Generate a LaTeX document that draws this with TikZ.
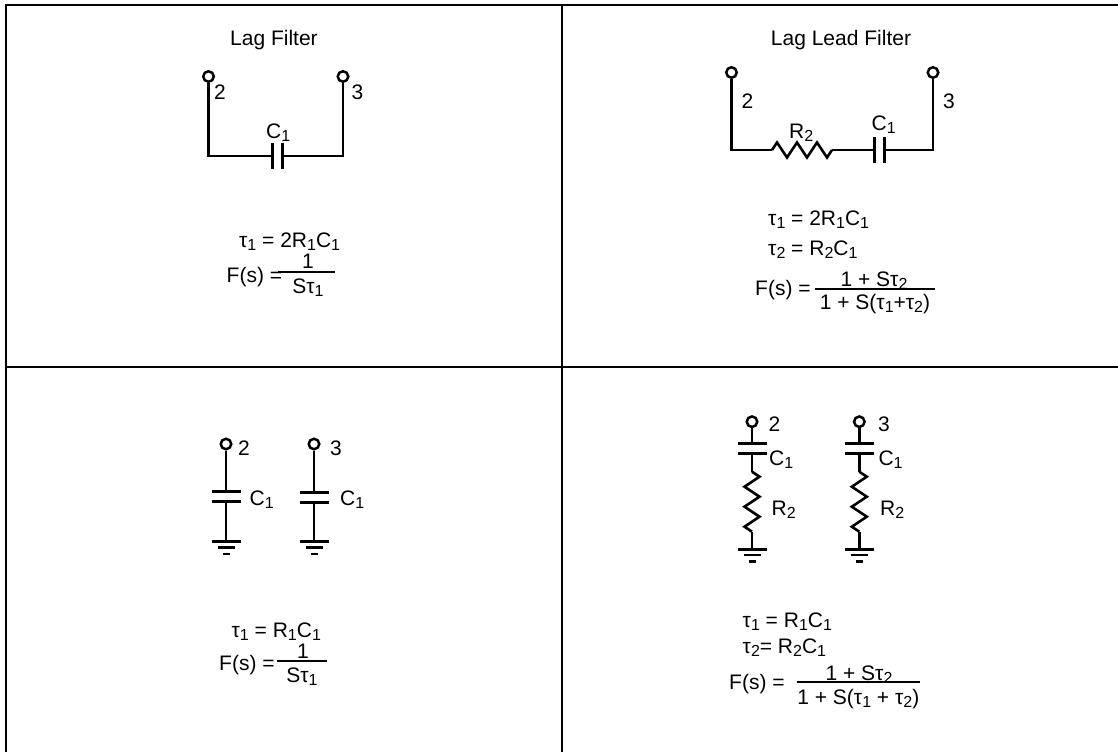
\documentclass[tikz,border=0pt]{standalone}
\usepackage{fontspec}
\setmainfont{Liberation Sans}
\usetikzlibrary{calc,positioning,decorations.pathmorphing}
\newcommand{\lowsub}[1]{\raisebox{-3.3pt}{\fontsize{16}{16}\selectfont #1}}

\begin{document}
\begin{tikzpicture}[
    x=1pt, y=-1pt,
    every node/.style={inner sep=0pt, font=\fontsize{21}{25}\selectfont},
    txt/.style={anchor=base west},
    ctxt/.style={anchor=base},
    frame/.style={line width=2pt, black},
    wire/.style={line width=2.6pt, black},
    plate/.style={line width=3pt, black},
    bar/.style={line width=2pt, black},
    term/.style={circle, draw=black, line width=2.5pt, fill=white, minimum size=10.5pt},
    res/.style={wire, decorate, decoration={zigzag, segment length=20pt, amplitude=7.5pt}},
    hcap/.pic={\draw[plate] (-5,-13) -- (-5,13) (5,-13) -- (5,13);},
    vcap/.pic={\draw[plate] (-14.5,-5) -- (14.5,-5) (-14.5,5) -- (14.5,5);},
    gnd/.pic={\draw[wire] (-14.5,0) -- (14.5,0) (-8.5,5.7) -- (8.5,5.7) (-3.5,12.3) -- (3.5,12.3);},
  ]

  \useasboundingbox (0,0) rectangle (1118,752);

  % table lines
  \draw[frame] (1118,5) -- (6,5) -- (6,752);
  \draw[frame] (562,5) -- (562,752);
  \draw[frame] (6,367) -- (1118,367);

  % lag filter
  \node (lagT)  [ctxt] at (274,46) {Lag Filter};
  \node (t2a)   [term] at (208.5,76.5) {};
  \node (t3a)   [term] at (343,76.5) {};
  \coordinate (c1al) at (272,156);
  \coordinate (c1ar) at (282,156);
  \draw[wire] (t2a) |- (c1al);
  \draw[wire] (c1ar) -| (t3a);
  \pic at ($(c1al)!0.5!(c1ar)$) {hcap};
  \node (n2a)   [txt] at (214,99) {2};
  \node (n3a)   [txt] at (351.5,99) {3};
  \node (c1a)   [txt] at (266,138) {C\lowsub{1}};

  \node (tau1a) [txt] at (239,247) {τ\lowsub{1} = 2R\lowsub{1}C\lowsub{1}};
  \node (fsa)   [txt] at (226.5,282) {F(s) =};
  \coordinate (bara1) at (278,272.3);
  \coordinate (bara2) at (335,272.3);
  \draw[bar] (bara1) -- (bara2);
  \node (numa)  [ctxt] at (308,268.5) {1};
  \node (dena)  [ctxt] at (308,293) {Sτ\lowsub{1}};

  % lag lead filter
  \node (lagleadT) [ctxt] at (841,46) {Lag Lead Filter};
  \node (t2b)   [term] at (731.5,72.5) {};
  \node (t3b)   [term] at (933,72.5) {};
  \coordinate (r2bl) at (772,150);
  \coordinate (r2br) at (832,150);
  \coordinate (c1bl) at (874,150);
  \coordinate (c1br) at (884,150);
  \draw[wire] (t2b) |- (r2bl);
  \draw[res]  (r2bl) -- (r2br);
  \draw[wire] (r2br) -- (c1bl);
  \draw[wire] (c1br) -| (t3b);
  \pic at ($(c1bl)!0.5!(c1br)$) {hcap};
  \node (n2b)   [txt] at (741.5,108) {2};
  \node (n3b)   [txt] at (943,108) {3};
  \node (r2b)   [txt] at (789,138) {R\lowsub{2}};
  \node (c1b)   [txt] at (871.5,130) {C\lowsub{1}};

  \node (tau1b) [txt] at (768,225) {τ\lowsub{1} = 2R\lowsub{1}C\lowsub{1}};
  \node (tau2b) [txt] at (768,255) {τ\lowsub{2} = R\lowsub{2}C\lowsub{1}};
  \node (fsb)   [txt] at (755,295) {F(s) =};
  \coordinate (barb1) at (815,289.3);
  \coordinate (barb2) at (935,289.3);
  \draw[bar] (barb1) -- (barb2);
  \node (numb)  [ctxt] at (874,286) {1 + Sτ\lowsub{2}};
  \node (denb)  [ctxt] at (875,309) {1 + S(τ\lowsub{1}+τ\lowsub{2})};

  % shunt capacitors
  \node (t2c)   [term] at (226,444) {};
  \node (t3c)   [term] at (314,444) {};
  \coordinate (c2ct) at (226,491);
  \coordinate (c2cb) at (226,501);
  \coordinate (c3ct) at (314,492.5);
  \coordinate (c3cb) at (314,502.5);
  \coordinate (g2c) at (226,541.7);
  \coordinate (g3c) at (314,541.7);
  \draw[wire] (t2c) -- (c2ct);
  \draw[wire] (c2cb) -- (g2c);
  \draw[wire] (t3c) -- (c3ct);
  \draw[wire] (c3cb) -- (g3c);
  \pic at ($(c2ct)!0.5!(c2cb)$) {vcap};
  \pic at ($(c3ct)!0.5!(c3cb)$) {vcap};
  \pic at (g2c) {gnd};
  \pic at (g3c) {gnd};
  \node (n2c)   [txt] at (238,455) {2};
  \node (n3c)   [txt] at (330,455) {3};
  \node (c1c)   [txt] at (249.5,505) {C\lowsub{1}};
  \node (c1cc)  [txt] at (340,505) {C\lowsub{1}};

  \node (tau1c) [txt] at (231.5,637) {τ\lowsub{1} = R\lowsub{1}C\lowsub{1}};
  \node (fsc)   [txt] at (219,670) {F(s) =};
  \coordinate (barc1) at (276.7,661.3);
  \coordinate (barc2) at (327,661.3);
  \draw[bar] (barc1) -- (barc2);
  \node (numc)  [ctxt] at (303,658.5) {1};
  \node (denc)  [ctxt] at (302,682) {Sτ\lowsub{1}};

  % shunt capacitor with resistor
  \node (t2d)   [term] at (752,421.7) {};
  \node (t3d)   [term] at (859.3,421.7) {};
  \coordinate (c2dt) at (752,443.3);
  \coordinate (c2db) at (752,453.3);
  \coordinate (r2dt) at (752,471.7);
  \coordinate (r2db) at (752,531.7);
  \coordinate (g2d)  at (752,549.3);
  \coordinate (c3dt) at (859.3,443.3);
  \coordinate (c3db) at (859.3,453.3);
  \coordinate (r3dt) at (859.3,471.7);
  \coordinate (r3db) at (859.3,531.7);
  \coordinate (g3d)  at (859.3,549.3);
  \draw[wire] (t2d) -- (c2dt);
  \draw[wire] (c2db) -- (r2dt);
  \draw[res]  (r2dt) -- (r2db);
  \draw[wire] (r2db) -- (g2d);
  \draw[wire] (t3d) -- (c3dt);
  \draw[wire] (c3db) -- (r3dt);
  \draw[res]  (r3dt) -- (r3db);
  \draw[wire] (r3db) -- (g3d);
  \pic at ($(c2dt)!0.5!(c2db)$) {vcap};
  \pic at ($(c3dt)!0.5!(c3db)$) {vcap};
  \pic at (g2d) {gnd};
  \pic at (g3d) {gnd};
  \node (n2d)   [txt] at (768.5,431.7) {2};
  \node (n3d)   [txt] at (878,431.7) {3};
  \node (c1d)   [txt] at (769,465) {C\lowsub{1}};
  \node (c1dd)  [txt] at (878.3,465) {C\lowsub{1}};
  \node (r2d)   [txt] at (771.5,515) {R\lowsub{2}};
  \node (r2dd)  [txt] at (880,515) {R\lowsub{2}};

  \node (tau1d) [txt] at (742.5,627) {τ\lowsub{1} = R\lowsub{1}C\lowsub{1}};
  \node (tau2d) [txt] at (742.5,653.5) {τ\lowsub{2}= R\lowsub{2}C\lowsub{1}};
  \node (fsd)   [txt] at (729,689) {F(s) =};
  \coordinate (bard1) at (796.7,682.3);
  \coordinate (bard2) at (920,682.3);
  \draw[bar] (bard1) -- (bard2);
  \node (numd)  [ctxt] at (859,680) {1 + Sτ\lowsub{2}};
  \node (dend)  [ctxt] at (858.3,704) {1 + S(τ\lowsub{1} + τ\lowsub{2})};

\end{tikzpicture}
\end{document}
